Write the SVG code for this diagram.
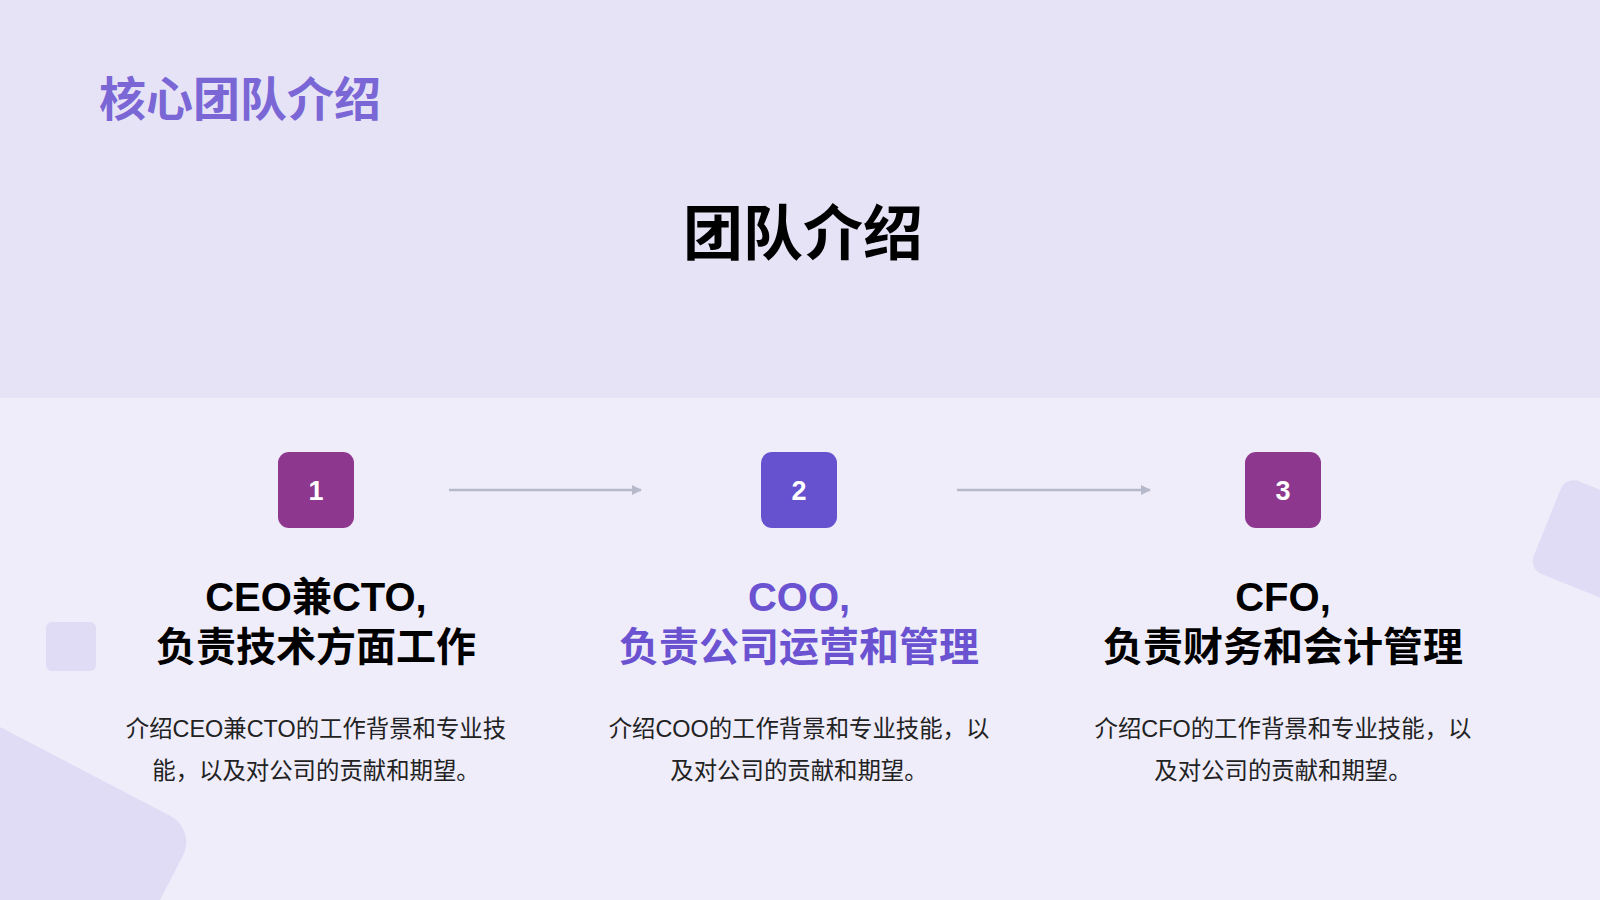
<svg xmlns="http://www.w3.org/2000/svg" width="1600" height="900" viewBox="0 0 1600 900">
  <defs>
    <marker id="arrow" viewBox="0 0 10 10" refX="9" refY="5" markerWidth="4" markerHeight="4" orient="auto" markerUnits="strokeWidth">
      <path d="M0,0 L10,5 L0,10 z" fill="#B6B9CA"/>
    </marker>
  </defs>
  <style>
    .cjk { font-family: "Liberation Sans", "Noto Sans CJK SC", sans-serif; }
    .title { font-size: 47px; font-weight: bold; fill: #7B66D6; }
    .main { font-size: 60px; font-weight: bold; fill: #000; }
    .num { font-size: 27px; font-weight: bold; fill: #fff; }
    .head { font-size: 40px; font-weight: bold; fill: #000; }
    .head.accent { fill: #6A52D0; }
    .desc { font-size: 23.4px; fill: #222; }
    .conn { stroke: #B6B9CA; stroke-width: 2.5; fill: none; }
    .deco { fill: #E0DCF5; }
  </style>

  <rect x="0" y="0" width="1600" height="398" fill="#E6E3F6"/>
  <rect x="0" y="398" width="1600" height="502" fill="#EFEDFA"/>

  <rect class="deco" x="46" y="622" width="50" height="49" rx="6"/>
  <g transform="translate(196.7,829.5) rotate(27.5)">
    <rect class="deco" x="-420" y="0" width="420" height="420" rx="30"/>
  </g>
  <g transform="translate(1566,476) rotate(22)">
    <rect class="deco" x="0" y="0" width="200" height="100" rx="14"/>
  </g>

  <text class="cjk title" x="99" y="116">核心团队介绍</text>
  <text class="cjk main" x="803" y="255" text-anchor="middle">团队介绍</text>

  <g id="connectors">
    <line class="conn" x1="449" y1="490" x2="641" y2="490" marker-end="url(#arrow)"/>
    <line class="conn" x1="957" y1="490" x2="1150" y2="490" marker-end="url(#arrow)"/>
  </g>

  <g id="node1">
    <rect x="278" y="452" width="76" height="76" rx="11" fill="#8E378E"/>
    <text class="cjk num" x="316" y="500" text-anchor="middle">1</text>
    <text class="cjk head" x="316" y="611" text-anchor="middle">CEO兼CTO,</text>
    <text class="cjk head" x="316" y="661" text-anchor="middle">负责技术方面工作</text>
    <text class="cjk desc" x="316" y="737" text-anchor="middle">介绍CEO兼CTO的工作背景和专业技</text>
    <text class="cjk desc" x="316" y="779" text-anchor="middle">能，以及对公司的贡献和期望。</text>
  </g>

  <g id="node2">
    <rect x="761" y="452" width="76" height="76" rx="11" fill="#6652CF"/>
    <text class="cjk num" x="799" y="500" text-anchor="middle">2</text>
    <text class="cjk head accent" x="799" y="611" text-anchor="middle">COO,</text>
    <text class="cjk head accent" x="799" y="661" text-anchor="middle">负责公司运营和管理</text>
    <text class="cjk desc" x="799" y="737" text-anchor="middle">介绍COO的工作背景和专业技能，以</text>
    <text class="cjk desc" x="799" y="779" text-anchor="middle">及对公司的贡献和期望。</text>
  </g>

  <g id="node3">
    <rect x="1245" y="452" width="76" height="76" rx="11" fill="#8E378E"/>
    <text class="cjk num" x="1283" y="500" text-anchor="middle">3</text>
    <text class="cjk head" x="1283" y="611" text-anchor="middle">CFO,</text>
    <text class="cjk head" x="1283" y="661" text-anchor="middle">负责财务和会计管理</text>
    <text class="cjk desc" x="1283" y="737" text-anchor="middle">介绍CFO的工作背景和专业技能，以</text>
    <text class="cjk desc" x="1283" y="779" text-anchor="middle">及对公司的贡献和期望。</text>
  </g>
</svg>
